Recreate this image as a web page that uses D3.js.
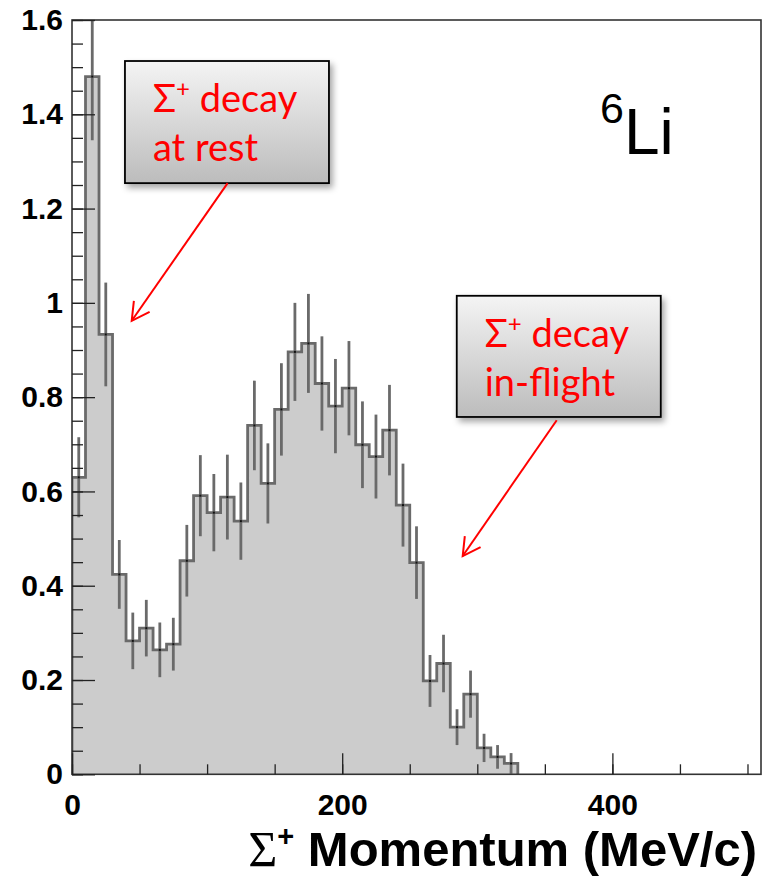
<!DOCTYPE html>
<html>
  <head>
    <meta charset='UTF-8'>
    <style>
    body { margin: 0; background: #fff; }
    svg { display: block; }
    .axis text { font-family: 'Liberation Sans', Arial, sans-serif; font-weight: bold; font-size: 30px; fill: #000; }
    .axis path { display: none; }
    .axis line { stroke: #222; stroke-width: 1.3; }
    .note { font-family: Lato, 'Open Sans', sans-serif; font-size: 38px; fill: #ff0000; }
    </style>
  </head>
  <body>
  <script src='https://cdnjs.cloudflare.com/ajax/libs/d3/7.8.5/d3.min.js'></script>
  <script>

    // Sigma+ momentum histogram, 10 MeV/c bins starting at 0
    var binWidth = 10;
    var counts = [0.63, 1.48, 0.933, 0.424, 0.283, 0.31, 0.264, 0.276, 0.453, 0.591,
                  0.555, 0.588, 0.537, 0.74, 0.617, 0.774, 0.896, 0.914, 0.829, 0.781,
                  0.819, 0.699, 0.674, 0.73, 0.571, 0.449, 0.198, 0.235, 0.10, 0.17,
                  0.056, 0.037, 0.023];
    var errors = [0.085, 0.135, 0.11, 0.073, 0.06, 0.06, 0.058, 0.056, 0.076, 0.086,
                  0.082, 0.09, 0.082, 0.095, 0.085, 0.098, 0.104, 0.105, 0.1, 0.1,
                  0.1, 0.092, 0.089, 0.096, 0.088, 0.077, 0.055, 0.061, 0.038, 0.05,
                  0.03, 0.025, 0.022];
    var xTicks = [0, 200, 400];
    var yTicks = [0, 0.2, 0.4, 0.6, 0.8, 1, 1.2, 1.4, 1.6];
    var xDomain = [0, 510];
    var yDomain = [0, 1.6];

    var width = 770, height = 877;
    var x = d3.scaleLinear().domain(xDomain).range([72, 761]);
    var y = d3.scaleLinear().domain(yDomain).range([774.3, 20]);

    var svg = d3.select('body')
      .append('svg')
      .attr('width', width)
      .attr('height', height);

    var defs = svg.append('defs');
    defs.append('clipPath').attr('id', 'plot')
      .append('rect')
      .attr('x', x(0)).attr('y', y(1.6))
      .attr('width', x(510) - x(0)).attr('height', y(0) - y(1.6));

    var grad = defs.append('linearGradient').attr('id', 'boxfill')
      .attr('x1', 0).attr('y1', 0).attr('x2', 0).attr('y2', 1);
    grad.append('stop').attr('offset', '0%').attr('stop-color', '#f4f4f4');
    grad.append('stop').attr('offset', '100%').attr('stop-color', '#bcbcbc');

    var shadow = defs.append('filter').attr('id', 'shadow')
      .attr('x', '-10%').attr('y', '-10%').attr('width', '130%').attr('height', '140%');
    shadow.append('feDropShadow')
      .attr('dx', 3).attr('dy', 4).attr('stdDeviation', 3)
      .attr('flood-color', '#000').attr('flood-opacity', 0.35);

    // histogram outline points
    var pts = [[x(0), y(0)]];
    counts.forEach(function(v, i) {
      pts.push([x(i * binWidth), y(v)]);
      pts.push([x((i + 1) * binWidth), y(v)]);
    });
    pts.push([x(counts.length * binWidth), y(0)]);

    var g = svg.append('g').attr('clip-path', 'url(#plot)');

    g.append('path')
      .attr('d', d3.line()(pts) + 'Z')
      .attr('fill', '#cccccc')
      .attr('stroke', 'none');

    g.append('path')
      .attr('d', d3.line()(pts))
      .attr('fill', 'none')
      .attr('stroke', '#6a6a6a')
      .attr('stroke-width', 2.8);

    g.selectAll('line.err')
      .data(counts)
      .enter()
      .append('line')
      .attr('class', 'err')
      .attr('x1', function(d, i) { return x((i + 0.5) * binWidth); })
      .attr('x2', function(d, i) { return x((i + 0.5) * binWidth); })
      .attr('y1', function(d, i) { return y(d + errors[i]); })
      .attr('y2', function(d, i) { return y(d - errors[i]); })
      .attr('stroke', '#6a6a6a')
      .attr('stroke-width', 2.8);

    g.selectAll('rect.mk')
      .data(counts)
      .enter()
      .append('rect')
      .attr('class', 'mk')
      .attr('x', function(d, i) { return x((i + 0.5) * binWidth) - 1; })
      .attr('y', function(d) { return y(d) - 1; })
      .attr('width', 2).attr('height', 2)
      .attr('fill', '#111');

    // frame
    svg.append('rect')
      .attr('x', x(0)).attr('y', y(1.6))
      .attr('width', x(510) - x(0)).attr('height', y(0) - y(1.6))
      .attr('fill', 'none')
      .attr('stroke', '#333')
      .attr('stroke-width', 1.6);

    // y axis
    svg.append('g').attr('class', 'axis')
      .attr('transform', 'translate(' + x(0) + ',0)')
      .call(d3.axisLeft(y).tickValues(d3.range(0, 1.6001, 0.05)).tickSize(-11).tickFormat(''));
    svg.append('g').attr('class', 'axis')
      .attr('transform', 'translate(' + x(0) + ',0)')
      .call(d3.axisLeft(y).tickValues(yTicks).tickSize(-23).tickPadding(9).tickFormat(d3.format('~g')));

    // x axis
    svg.append('g').attr('class', 'axis')
      .attr('transform', 'translate(0,' + y(0) + ')')
      .call(d3.axisTop(x).tickValues(d3.range(0, 501, 50)).tickSize(10).tickFormat(''));
    svg.append('g').attr('class', 'axis')
      .attr('transform', 'translate(0,' + y(0) + ')')
      .call(d3.axisBottom(x).tickValues(xTicks).tickSize(-21).tickPadding(19).tickFormat(d3.format('d')));

    // axis title
    var title = svg.append('text')
      .attr('x', 757).attr('y', 866)
      .attr('text-anchor', 'end')
      .style('font-family', "'Liberation Sans', Arial, sans-serif")
      .style('font-weight', 'bold')
      .style('font-size', '49px');
    title.append('tspan')
      .style('font-family', "'Liberation Serif', 'Times New Roman', serif")
      .style('font-weight', 'normal')
      .style('font-size', '50px')
      .text('Σ');
    title.append('tspan').attr('dy', -20).style('font-size', '29px').text('+');
    title.append('tspan').attr('dy', 20).text(' Momentum (MeV/c)');

    // nucleus label
    var nuc = svg.append('text')
      .attr('x', 600).attr('y', 123)
      .style('font-family', "'Liberation Sans', Arial, sans-serif");
    nuc.append('tspan').style('font-size', '43px').text('6');
    nuc.append('tspan').attr('dy', 31).style('font-size', '64px').text('Li');

    // annotation boxes
    var notes = [
      {x0: 39.2, x1: 190.2, y0: 1.513, y1: 1.254, lines: ['decay', 'at rest'],
       from: [115.2, 1.254], to: [44.2, 0.962]},
      {x0: 284.8, x1: 435.8, y0: 1.015, y1: 0.758, lines: ['decay', 'in-flight'],
       from: [358.8, 0.751], to: [289.2, 0.463]}
    ];

    notes.forEach(function(n) {
      var bx = x(n.x0), by = y(n.y0);
      svg.append('rect')
        .attr('x', bx).attr('y', by)
        .attr('width', x(n.x1) - bx).attr('height', y(n.y1) - by)
        .attr('fill', 'url(#boxfill)')
        .attr('stroke', '#000')
        .attr('stroke-width', 1.8)
        .attr('filter', 'url(#shadow)');
      var t1 = svg.append('text').attr('class', 'note')
        .attr('x', bx + 28).attr('y', by + 51);
      t1.append('tspan').text('Σ');
      t1.append('tspan').attr('dy', -15).style('font-size', '24px').text('+');
      t1.append('tspan').attr('dy', 15).text(' ' + n.lines[0]);
      svg.append('text').attr('class', 'note')
        .attr('x', bx + 28).attr('y', by + 100)
        .text(n.lines[1]);

      // arrow
      var sx = x(n.from[0]), sy = y(n.from[1]);
      var tx = x(n.to[0]), ty = y(n.to[1]);
      var ang = Math.atan2(sy - ty, sx - tx);
      var len = 20, spread = 0.5;
      svg.append('line')
        .attr('x1', sx).attr('y1', sy).attr('x2', tx).attr('y2', ty)
        .attr('stroke', '#ff0000').attr('stroke-width', 2);
      svg.append('path')
        .attr('d', d3.line()([
          [tx + len * Math.cos(ang - spread), ty + len * Math.sin(ang - spread)],
          [tx, ty],
          [tx + len * Math.cos(ang + spread), ty + len * Math.sin(ang + spread)]
        ]))
        .attr('fill', 'none')
        .attr('stroke', '#ff0000').attr('stroke-width', 2);
    });

  </script>
  </body>
</html>
